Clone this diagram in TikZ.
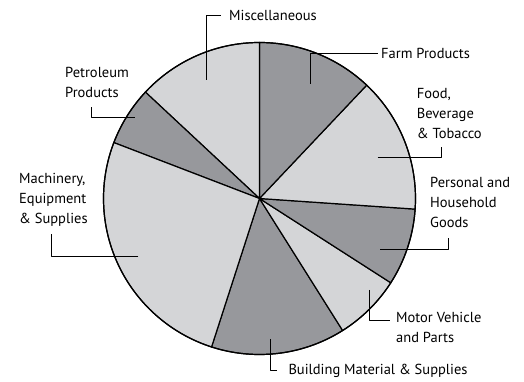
\documentclass[tikz,border=0pt]{standalone}
\usepackage{fontspec}
\setmainfont{PT Sans}
\definecolor{darkslice}{HTML}{97989C}
\definecolor{lightslice}{HTML}{D4D5D7}
\begin{document}
\begin{tikzpicture}[line join=round, x=1pt, y=1pt, font=\fontsize{14.5}{20}\selectfont, declare function={r=156;},
  lbl/.style={inner sep=0pt, anchor=west, align=left},
  leader/.style={line width=0.9pt}]
\useasboundingbox (-259.5,-183.5) rectangle (264.5,198.5);
\foreach \a/\b/\c in {-107.9/-57.8/darkslice, -57.8/-32.7/lightslice, -32.7/-3.9/darkslice, -3.9/46.6/lightslice, 46.6/90/darkslice, 90/137/lightslice, 137/159/darkslice, 159/252.1/lightslice}{
\filldraw[fill=\c, line width=1.2pt] (0,0)--(\a:r) arc[start angle=\a, end angle=\b, radius=r]--cycle;
}
\draw[line width=1.2pt] (0,0) circle[radius=r];
% labels
\node[lbl] (misc) at (-30.5,182.8) {Miscellaneous};
\node[lbl] (farm) at (121.5,145.2) {Farm Products};
\node[lbl] (food) at (157.2,84.5) {Food,\\Beverage\\\& Tobacco};
\node[lbl] (pers) at (170.5,-4) {Personal and\\Household\\Goods};
\node[lbl, anchor=north west] (motor) at (136.5,-113.5) {Motor Vehicle\\and Parts};
\node[lbl] (build) at (28.8,-172.2) {Building Material \& Supplies};
\node[lbl] (mach) at (-240.5,-1.5) {Machinery,\\Equipment\\\& Supplies};
\node[lbl] (petro) at (-194.5,116.2) {Petroleum\\Products};
% leaders
\coordinate (misc-in) at (-53.5,118.5);
\coordinate (farm-in) at (51.2,114.5);
\coordinate (food-in) at (118.2,41.2);
\coordinate (pers-in) at (120.5,-50.8);
\coordinate (motor-in) at (109.8,-91.5);
\coordinate (build-in) at (10.5,-140.5);
\coordinate (mach-in) at (-121.2,-58.2);
\coordinate (petro-in) at (-124.5,81.2);
\draw[leader] (misc-in) |- ([xshift=-8pt]misc.west);
\draw[leader] (farm-in) |- ([xshift=-3pt]farm.west);
\draw[leader] (food-in) -| (182.2,51.8);
\draw[leader] (pers-in) -| (188.8,-39.2);
\draw[leader] (motor-in) |- (130.5,-121.5);
\draw[leader] (build-in) |- ([xshift=-11pt]build.west);
\draw[leader] (mach-in) -| (-207.8,-35.8);
\draw[leader] (petro-in) -| (-167.8,91.2);
\end{tikzpicture}
\end{document}
